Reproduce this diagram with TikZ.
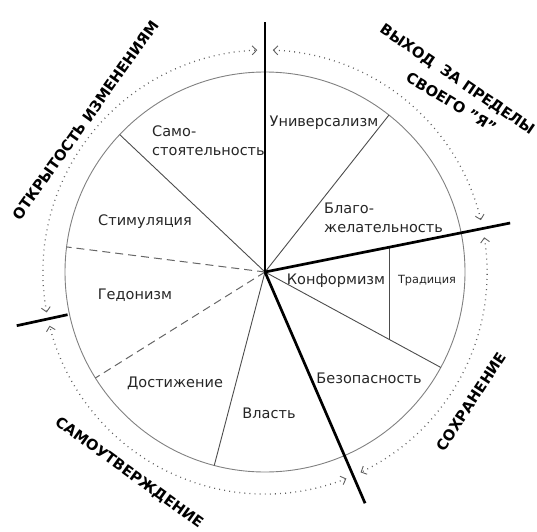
\documentclass[tikz,border=0pt]{standalone}
\usepackage{fontspec}
\setmainfont{DejaVu Sans}
\usetikzlibrary{arrows.meta,calc}
\newcommand{\grpfont}{\bfseries\fontsize{14.7}{16}\selectfont}
\begin{document}
\begin{tikzpicture}[x=1pt,y=1pt,
  circ/.style={draw=black!50, line width=0.9pt},
  axisline/.style={line width=2.7pt, black},
  divline/.style={line width=0.9pt, black!70},
  dashline/.style={line width=1pt, black!60, dash pattern=on 8pt off 5pt},
  dotarc/.style={line width=1.3pt, black!62, dash pattern=on 0.9pt off 4.2pt,
     {Straight Barb[length=4.5pt,width=9pt,line width=0.9pt]}-{Straight Barb[length=4.5pt,width=9pt,line width=0.9pt]}},
  lbl/.style={font=\fontsize{14.5}{16}\selectfont, text=black!85, inner sep=0pt},
  grp/.style={font=\grpfont, inner sep=0pt}
]
\useasboundingbox (0,0) rectangle (537,531);
\coordinate (C) at (265,259);
\draw[circ] (C) circle[radius=200];

% thin dividing lines
\coordinate (pUB) at ($(C)+(51.7:200)$);
\coordinate (pSS) at ($(C)+(136.6:200)$);
\coordinate (pAP) at ($(C)+(255.3:200)$);
\coordinate (pSC) at ($(C)+(-28.5:200)$);
\coordinate (pSH) at ($(C)+(172.8:200)$);
\coordinate (pHA) at ($(C)+(212:200)$);
\draw[divline] (C) -- (pUB);
\draw[divline] (C) -- (pSS);
\draw[divline] (C) -- (pAP);
\draw[divline] (C) -- (pSC);
\draw[dashline] (C) -- (pSH);
\draw[dashline] (C) -- (pHA);
\coordinate (tTop) at (389,283.8);
\coordinate (tBot) at (389,191.7);
\draw[divline] (tTop) -- (tBot);

% thick lines
\coordinate (aUp) at ($(C)+(90:250)$);
\coordinate (aRt) at ($(C)+(11.3:250)$);
\coordinate (aDn) at ($(C)+(-66.6:252)$);
\coordinate (aLi) at ($(C)+(192.2:202)$);
\coordinate (aLo) at ($(C)+(192.2:254)$);
\draw[axisline] (C) -- (aUp);
\draw[axisline] (C) -- (aRt);
\draw[axisline] (C) -- (aDn);
\draw[axisline] (aLi) -- (aLo);

% dotted arcs
\draw[dotarc] ($(C)+(88:222)$) arc[start angle=88, end angle=13.5, radius=222];
\draw[dotarc] ($(C)+(9:222)$) arc[start angle=9, end angle=-64.5, radius=222];
\draw[dotarc] ($(C)+(-68.5:222)$) arc[start angle=-68.5, end angle=-166, radius=222];
\draw[dotarc] ($(C)+(190.5:222)$) arc[start angle=190.5, end angle=92, radius=222];

% value labels
\node[lbl, anchor=west] (samo1) at (152,400) {Само-};
\node[lbl, anchor=west] (samo2) at (152,379) {стоятельность};
\node[lbl] (univ) at (324,408) {Универсализм};
\node[lbl, anchor=west] (blago1) at (324,323) {Благо-};
\node[lbl, anchor=west] (blago2) at (324,302) {желательность};
\node[lbl] (stim) at (145,309) {Стимуляция};
\node[lbl] (gedo) at (135,236) {Гедонизм};
\node[lbl] (dost) at (175,148) {Достижение};
\node[lbl] (vlast) at (269,118) {Власть};
\node[lbl] (bezo) at (369,153) {Безопасность};
\node[lbl] (konf) at (336,250) {Конформизм};
\node[lbl, font=\fontsize{11.3}{13}\selectfont] (trad) at (427,250) {Традиция};

% group labels
\node[grp, rotate=54.6] (open) at (86,411) {ОТКРЫТОСТЬ ИЗМЕНЕНИЯМ};
\node[grp, rotate=-35.9] (self) at (129,58) {САМОУТВЕРЖДЕНИЕ};
\node[grp, rotate=56.8] (cons) at (471.5,129.5) {СОХРАНЕНИЕ};
\node[grp, rotate=-34.4] (vyh1) at (457,451) {ВЫХОД\hspace{0.3em} ЗА ПРЕДЕЛЫ};
\node[grp, rotate=-31] (vyh2) at (451.5,428.5) {СВОЕГО "Я"};
\end{tikzpicture}
\end{document}
